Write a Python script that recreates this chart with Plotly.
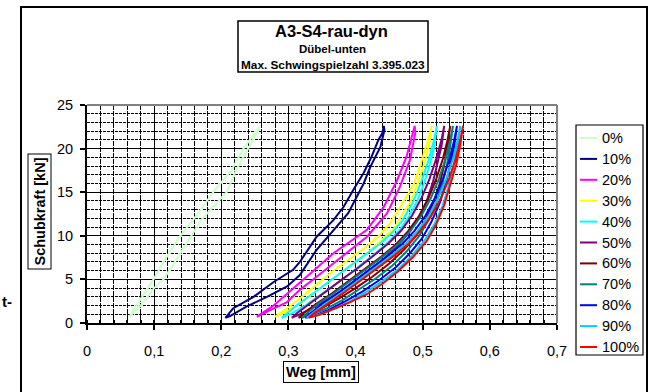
import plotly.graph_objects as go

# ---------------- data ----------------
series_names = ["0%", "10%", "20%", "30%", "40%", "50%", "60%", "70%", "80%", "90%", "100%"]
series_colors = ["#CCFFCC", "#000080", "#FF00FF", "#FFFF00", "#00FFFF", "#800080",
                 "#800000", "#008080", "#0000FF", "#00CCFF", "#FF0000"]

weg_0 = [0.063, 0.080, 0.100, 0.114, 0.135, 0.156, 0.170, 0.190, 0.208, 0.222, 0.240, 0.250, 0.258,
         0.252, 0.233, 0.215, 0.188, 0.165, 0.139, 0.118, 0.099, 0.082, 0.068, 0.063]
kraft_0 = [0.7, 2.0, 4.0, 5.0, 7.5, 10.0, 11.8, 13.5, 15.0, 17.5, 20.0, 21.5, 22.5,
           22.0, 20.0, 17.5, 15.0, 12.5, 10.0, 7.5, 5.0, 3.0, 1.2, 0.7]

weg_10 = [0.206, 0.213, 0.238, 0.268, 0.298, 0.317, 0.342, 0.367, 0.389, 0.402, 0.412, 0.422, 0.437, 0.443, 0.442,
          0.440, 0.434, 0.424, 0.412, 0.397, 0.382, 0.367, 0.342, 0.317, 0.307, 0.278, 0.248, 0.218, 0.206]
kraft_10 = [0.6, 0.8, 1.9, 3.0, 4.2, 5.5, 8.4, 10.7, 12.6, 14.5, 16.0, 17.9, 20.2, 22.1, 22.6,
            21.8, 21.0, 19.1, 17.2, 15.3, 13.3, 11.8, 9.9, 7.0, 6.1, 4.7, 3.0, 1.7, 0.6]

weg_20 = [0.253, 0.268, 0.298, 0.317, 0.342, 0.367, 0.392, 0.417, 0.447, 0.466, 0.481, 0.489, 0.488,
          0.484, 0.476, 0.462, 0.442, 0.417, 0.392, 0.367, 0.342, 0.317, 0.298, 0.278, 0.258, 0.253]
kraft_20 = [0.7, 1.3, 2.4, 3.8, 5.3, 6.8, 8.3, 9.9, 12.6, 15.6, 18.7, 21.8, 22.6,
            21.5, 19.1, 16.4, 13.3, 10.7, 9.3, 8.0, 6.3, 4.6, 3.4, 2.0, 1.0, 0.7]

weg_30 = [0.280, 0.295, 0.317, 0.342, 0.367, 0.392, 0.417, 0.440, 0.457, 0.470, 0.481, 0.490, 0.498, 0.505, 0.510, 0.513,
          0.508, 0.496, 0.486, 0.476, 0.463, 0.452, 0.435, 0.417, 0.392, 0.367, 0.342, 0.317, 0.298, 0.280]
kraft_30 = [0.7, 1.2, 2.2, 3.6, 5.1, 6.6, 8.0, 9.6, 10.8, 12.5, 13.8, 15.5, 17.2, 19.0, 20.6, 22.6,
            21.0, 18.0, 15.8, 14.5, 12.8, 11.5, 10.0, 8.8, 7.4, 6.0, 4.4, 2.8, 1.7, 0.7]

weg_40 = [0.290, 0.305, 0.325, 0.350, 0.375, 0.400, 0.425, 0.448, 0.466, 0.480, 0.492, 0.502, 0.510, 0.517, 0.521,
          0.517, 0.508, 0.497, 0.485, 0.470, 0.455, 0.435, 0.410, 0.385, 0.360, 0.335, 0.312, 0.297, 0.290]
kraft_40 = [0.6, 1.1, 2.0, 3.3, 4.7, 6.2, 7.7, 9.2, 10.7, 12.3, 14.0, 16.0, 18.0, 20.2, 22.6,
            21.0, 18.5, 16.0, 13.8, 11.8, 10.4, 9.0, 7.6, 6.2, 4.8, 3.3, 2.0, 1.0, 0.6]

weg_50 = [0.305, 0.320, 0.340, 0.365, 0.390, 0.415, 0.440, 0.462, 0.480, 0.494, 0.506, 0.515, 0.522, 0.528, 0.532,
          0.528, 0.520, 0.510, 0.498, 0.484, 0.468, 0.450, 0.428, 0.405, 0.380, 0.355, 0.330, 0.312, 0.305]
kraft_50 = [0.6, 1.1, 1.9, 3.0, 4.3, 5.7, 7.2, 8.8, 10.4, 12.1, 14.0, 16.1, 18.2, 20.3, 22.6,
            21.0, 18.8, 16.5, 14.3, 12.3, 10.6, 9.2, 7.8, 6.4, 5.0, 3.6, 2.2, 1.1, 0.6]

weg_60 = [0.315, 0.330, 0.350, 0.375, 0.400, 0.425, 0.450, 0.472, 0.490, 0.504, 0.516, 0.525, 0.532, 0.537, 0.541,
          0.537, 0.530, 0.520, 0.508, 0.494, 0.478, 0.460, 0.438, 0.414, 0.390, 0.365, 0.340, 0.322, 0.315]
kraft_60 = [0.6, 1.0, 1.7, 2.8, 4.0, 5.3, 6.8, 8.4, 10.0, 11.8, 13.8, 15.9, 18.1, 20.3, 22.6,
            21.0, 18.8, 16.5, 14.2, 12.2, 10.5, 9.0, 7.6, 6.2, 4.8, 3.4, 2.1, 1.1, 0.6]

weg_70 = [0.320, 0.335, 0.355, 0.380, 0.405, 0.430, 0.455, 0.476, 0.494, 0.508, 0.520, 0.529, 0.536, 0.541, 0.545,
          0.541, 0.534, 0.524, 0.512, 0.498, 0.482, 0.464, 0.442, 0.418, 0.394, 0.369, 0.344, 0.327, 0.320]
kraft_70 = [0.6, 1.0, 1.6, 2.6, 3.8, 5.1, 6.6, 8.2, 9.9, 11.7, 13.8, 15.9, 18.1, 20.3, 22.6,
            21.0, 18.8, 16.5, 14.3, 12.3, 10.6, 9.1, 7.7, 6.3, 4.9, 3.5, 2.2, 1.1, 0.6]

weg_80 = [0.325, 0.340, 0.360, 0.385, 0.410, 0.435, 0.460, 0.481, 0.499, 0.513, 0.525, 0.534, 0.541, 0.547, 0.551,
          0.547, 0.540, 0.530, 0.518, 0.504, 0.488, 0.470, 0.448, 0.424, 0.400, 0.375, 0.350, 0.332, 0.325]
kraft_80 = [0.6, 0.9, 1.5, 2.5, 3.6, 4.9, 6.4, 8.0, 9.7, 11.6, 13.7, 15.9, 18.1, 20.3, 22.6,
            21.0, 18.8, 16.5, 14.3, 12.3, 10.6, 9.1, 7.7, 6.3, 4.9, 3.5, 2.2, 1.1, 0.6]

weg_90 = [0.327, 0.343, 0.365, 0.390, 0.415, 0.440, 0.464, 0.485, 0.503, 0.518, 0.530, 0.539, 0.546, 0.552, 0.556,
          0.552, 0.545, 0.535, 0.523, 0.509, 0.493, 0.475, 0.453, 0.429, 0.405, 0.380, 0.355, 0.335, 0.327]
kraft_90 = [0.6, 0.9, 1.5, 2.4, 3.5, 4.8, 6.2, 7.8, 9.5, 11.4, 13.5, 15.8, 18.0, 20.3, 22.6,
            21.0, 18.8, 16.5, 14.3, 12.3, 10.6, 9.1, 7.7, 6.3, 4.9, 3.5, 2.2, 1.1, 0.6]

weg_100 = [0.330, 0.345, 0.367, 0.392, 0.417, 0.440, 0.463, 0.486, 0.506, 0.520, 0.532, 0.541, 0.550, 0.556, 0.560,
           0.556, 0.549, 0.539, 0.527, 0.513, 0.497, 0.479, 0.457, 0.433, 0.408, 0.383, 0.358, 0.338, 0.330]
kraft_100 = [0.6, 0.9, 1.6, 2.4, 3.3, 4.5, 5.9, 7.6, 9.4, 11.3, 13.5, 15.8, 18.2, 20.4, 22.6,
             21.0, 18.8, 16.5, 14.3, 12.3, 10.6, 9.1, 7.7, 6.3, 4.9, 3.5, 2.2, 1.1, 0.6]

weg_all = [weg_0, weg_10, weg_20, weg_30, weg_40, weg_50, weg_60, weg_70, weg_80, weg_90, weg_100]
kraft_all = [kraft_0, kraft_10, kraft_20, kraft_30, kraft_40, kraft_50, kraft_60, kraft_70, kraft_80, kraft_90, kraft_100]

title_main = "A3-S4-rau-dyn"
title_sub1 = "Dübel-unten"
title_sub2 = "Max. Schwingspielzahl 3.395.023"
x_title = "Weg [mm]"
y_title = "Schubkraft [kN]"

# ---------------- figure ----------------
W, H = 653, 392
L, R, T, B = 87, 96, 105, 69
PW, PH = W - L - R, H - T - B

def px(xp):
    return (xp - L) / PW

def py(yp):
    return (H - B - yp) / PH

FONT = "Liberation Sans, Arial, sans-serif"

fig = go.Figure()
for name, col, xs, ys in zip(series_names, series_colors, weg_all, kraft_all):
    fig.add_trace(go.Scatter(x=xs, y=ys, mode="lines", name=name,
                             line=dict(color=col, width=2), showlegend=False))

shapes = []
annotations = []

def ann(text, x, y, size, xanchor="center", **kw):
    d = dict(text=text, xref="paper", yref="paper", x=x, y=y, showarrow=False,
             xanchor=xanchor, yanchor="middle",
             font=dict(size=size, family=FONT, color="black"))
    d.update(kw)
    annotations.append(d)

# outer chart frame
shapes.append(dict(type="rect", xref="paper", yref="paper",
                   x0=px(21), x1=px(647), y0=py(400), y1=py(7),
                   line=dict(color="black", width=2), layer="below"))
# plot area top/right border (gray)
shapes.append(dict(type="line", xref="paper", yref="paper", x0=0, x1=1, y0=1, y1=1,
                   line=dict(color="#808080", width=2)))
shapes.append(dict(type="line", xref="paper", yref="paper", x0=1, x1=1, y0=0, y1=1,
                   line=dict(color="#808080", width=2)))
# title box
shapes.append(dict(type="rect", xref="paper", yref="paper",
                   x0=px(238), x1=px(428), y0=py(72), y1=py(21),
                   line=dict(color="black", width=1.5), fillcolor="white"))
ann("<b>%s</b>" % title_main, px(331), py(31), 16.5)
ann("<b>%s</b>" % title_sub1, px(332.5), py(49.5), 11.5)
ann("<b>%s</b>" % title_sub2, px(333), py(65.5), 11.8)

# axis titles (boxed)
ann("<b>%s</b>" % y_title, px(39.5), py(212), 14.5, textangle=-90,
    bordercolor="black", borderwidth=1, borderpad=3)
ann("<b>%s</b>" % x_title, px(321), py(372), 14.5,
    bordercolor="black", borderwidth=1, borderpad=2)
# stray text fragment left of the frame
ann("<b>t-</b>", px(14), py(301), 15, xanchor="right")

# legend (box, line samples, labels) built from the series lists
shapes.append(dict(type="rect", xref="paper", yref="paper",
                   x0=px(576), x1=px(643), y0=py(355), y1=py(125),
                   line=dict(color="black", width=1.2), fillcolor="white"))
for i, (name, col) in enumerate(zip(series_names, series_colors)):
    yc = 138 + i * 20.9
    shapes.append(dict(type="line", xref="paper", yref="paper",
                       x0=px(580), x1=px(597), y0=py(yc), y1=py(yc),
                       line=dict(color=col, width=2)))
    ann(name, px(600), py(yc), 14.5, xanchor="left")

fig.update_layout(
    width=W, height=H,
    margin=dict(l=L, r=R, t=T, b=B, pad=0),
    paper_bgcolor="white", plot_bgcolor="white",
    separators=", ",
    showlegend=False,
    font=dict(family=FONT, size=14.5, color="black"),
    shapes=shapes, annotations=annotations,
    xaxis=dict(range=[0, 0.7], dtick=0.1, tick0=0, showgrid=True, gridcolor="black", gridwidth=1,
               zeroline=False, showline=True, linecolor="black", linewidth=2,
               ticks="outside", ticklen=5, tickcolor="black", tickwidth=1.5,
               ticklabelstandoff=9,
               minor=dict(dtick=0.02, showgrid=True, gridcolor="black", gridwidth=1, griddash="5px,1px",
                          ticks="inside", ticklen=3, tickcolor="black")),
    yaxis=dict(range=[0, 25], dtick=5, tick0=0, showgrid=True, gridcolor="black", gridwidth=1,
               zeroline=False, showline=True, linecolor="black", linewidth=2,
               ticks="outside", ticklen=5, tickcolor="black", tickwidth=1.5,
               ticklabelstandoff=4,
               minor=dict(dtick=1, showgrid=True, gridcolor="black", gridwidth=1, griddash="3px,1px",
                          ticks="", ticklen=3)),
)

fig.write_html("out.html", config={"displayModeBar": False},
               post_script="document.body.style.margin='0';document.body.style.overflow='hidden';")
